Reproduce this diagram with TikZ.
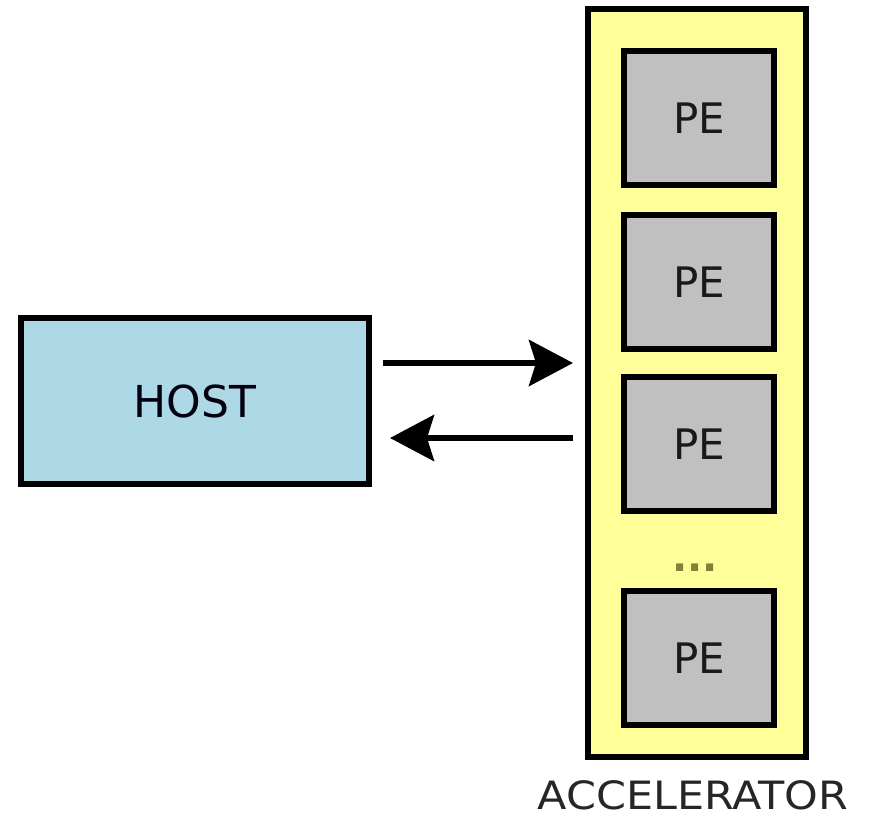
\documentclass[tikz,border=0pt]{standalone}
\usepackage{fontspec}
\setmainfont{DejaVu Sans}
\usetikzlibrary{arrows.meta}
\definecolor{hostblue}{HTML}{ADD8E6}
\definecolor{accyellow}{HTML}{FFFF99}
\definecolor{pegray}{HTML}{C0C0C0}
\definecolor{dotolive}{HTML}{80803A}
\tikzset{
  box/.style={draw=black, line width=6pt, inner sep=0pt},
  hostbox/.style={box, fill=hostblue, minimum width=348pt, minimum height=166pt,
    font=\fontsize{44}{52}\selectfont, text=black!85!blue!40!black},
  accbox/.style={box, fill=accyellow, minimum width=218pt, minimum height=748pt},
  pebox/.style={box, fill=pegray, minimum width=150pt, minimum height=134pt,
    font=\fontsize{42}{50}\selectfont, text=black!90},
  flow/.style={line width=6pt, -{Stealth[length=44pt,width=46pt,inset=7pt]}},
}
\begin{document}
\begin{tikzpicture}[x=1pt,y=-1pt]
  \useasboundingbox (0,0) rectangle (873,818);
  % host processor
  \node[hostbox] (host) at (195,401) {HOST};
  % accelerator with its processing elements
  \node[accbox] (acc) at (697,383) {};
  \node[pebox] (pe1) at (699,118) {PE};
  \node[pebox] (pe2) at (699,282) {PE};
  \node[pebox] (pe3) at (699,444) {PE};
  \node[pebox] (pe4) at (699,658) {PE};
  \node[font=\bfseries\fontsize{40}{48}\selectfont, text=dotolive, inner sep=0pt, anchor=base]
    (dots) at (695,571) {...};
  \node[font=\fontsize{39}{44}\selectfont, xscale=1.1, inner sep=0pt, anchor=base, text=black!85]
    (acclabel) at (693,809) {ACCELERATOR};
  % data transfer in both directions
  \coordinate (toacc) at (0,363);
  \coordinate (tohost) at (0,438);
  \draw[flow] ([xshift=11pt]host.east |- toacc) -- ([xshift=-12pt]acc.west |- toacc);
  \draw[flow] ([xshift=-12pt]acc.west |- tohost) -- ([xshift=18pt]host.east |- tohost);
\end{tikzpicture}
\end{document}
